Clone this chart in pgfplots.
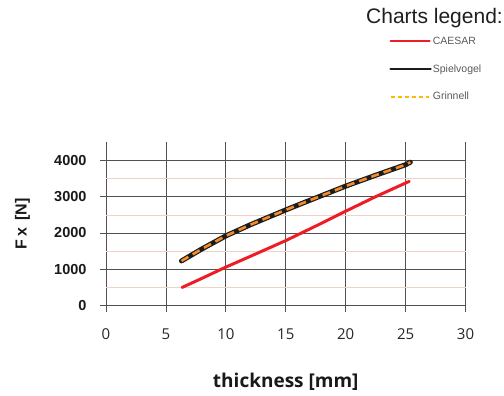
\documentclass[border=0pt]{standalone}
\usepackage{pgfplots}
\pgfplotsset{compat=1.18}
\usepackage{fontspec}
\setmainfont{Liberation Sans}
\newfontfamily\opensans{Open Sans}

\definecolor{gridc}{RGB}{85,80,82}
\definecolor{minorc}{RGB}{240,210,200}
\definecolor{caesar}{RGB}{238,28,36}
\definecolor{spiel}{RGB}{28,28,28}
\definecolor{grin}{RGB}{246,140,40}
\definecolor{grinleg}{RGB}{255,185,0}
\definecolor{legtext}{RGB}{90,90,90}

\begin{document}
\begin{tikzpicture}
\path[use as bounding box] (0,0) rectangle (504bp,396bp);
\begin{axis}[
  at={(106bp,90.4bp)}, anchor=south west,
  scale only axis, width=359.5bp, height=163.4bp,
  xmin=0, xmax=30, ymin=0, ymax=4500,
  xtick={0,5,10,15,20,25,30},
  xticklabels={0,5,10,15,20,25,30},
  ytick={0,1000,2000,3000,4000},
  yticklabels={0,1000,2000,3000,4000},
  minor ytick={500,1500,2500,3500},
  grid=both,
  major grid style={draw=gridc, line width=0.7bp},
  minor grid style={draw=minorc, line width=0.6bp},
  axis line style={draw=none},
  tick align=outside, major tick length=6bp, minor tick length=0pt,
  major tick style={draw=gridc, line width=0.7bp},
  xtick pos=bottom, ytick pos=left,
  xticklabel style={font=\opensans\fontsize{15bp}{15bp}\selectfont, text=black!85, yshift=-14bp},
  yticklabel style={font=\bfseries\fontsize{14.5bp}{14.5bp}\selectfont, text=black!90, xshift=-10bp},
  xlabel={thickness [mm]},
  xlabel style={at={(axis description cs:0.5,-0.4651)}, anchor=center,
    font=\opensans\bfseries\fontsize{19bp}{19bp}\selectfont, text=black!90},
  ylabel={F\,x\, [N]},
  ylabel style={at={(axis description cs:-0.2323,0.5)}, anchor=center,
    font=\bfseries\fontsize{16bp}{16bp}\selectfont, text=black!90},
  legend style={at={(axis description cs:0.7874,1.652)}, anchor=north west,
    draw=none, fill=none, inner sep=0pt, row sep=16.8bp,
    font=\fontsize{10.5bp}{10.5bp}\selectfont\color{legtext},
    nodes={inner sep=1bp}},
  legend cell align=left,
]
\addplot[caesar, line width=3bp, line cap=round,
  legend image code/.code={\draw[caesar, line width=2bp] (0bp,0bp) -- (39bp,0bp);}]
  coordinates {(6.35,500) (8,750) (10,1060) (12,1350) (15,1790) (18,2270)
               (20,2600) (22.5,3000) (25.3,3420)};
\addlegendentry{CAESAR}
\addplot[spiel, line width=5bp, line cap=round, line join=round,
  legend image code/.code={\draw[spiel, line width=2.6bp] (0bp,0bp) -- (40bp,0bp);}]
  coordinates {(6.3,1230) (8,1560) (10,1920) (12,2220) (15,2635) (18,3030)
               (20,3290) (22.5,3590) (25,3880) (25.4,3950)};
\addlegendentry{Spielvogel}
\addplot[grin, line width=2.6bp, dash pattern=on 8bp off 5bp, line join=round,
  legend image code/.code={\draw[grinleg, line width=1.5bp, dash pattern=on 4bp off 3bp] (0bp,0bp) -- (38bp,0bp);}]
  coordinates {(6.3,1230) (8,1560) (10,1920) (12,2220) (15,2635) (18,3030)
               (20,3290) (22.5,3590) (25,3880) (25.4,3950)};
\addlegendentry{Grinnell}
\end{axis}
\node[anchor=base east, inner sep=0pt, font=\fontsize{21bp}{21bp}\selectfont, text=black!88]
  at (503bp,372.7bp) {Charts legend:};
\end{tikzpicture}
\end{document}
